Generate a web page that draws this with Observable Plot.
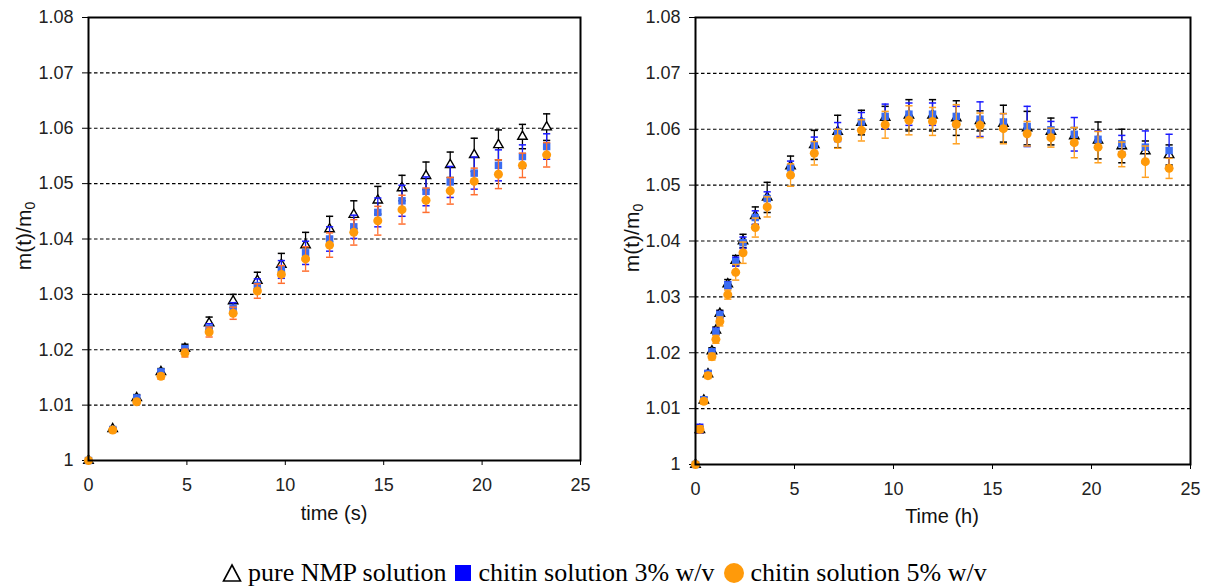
<!DOCTYPE html>
<html>
<head>
<meta charset="utf-8">
<script src="https://cdn.jsdelivr.net/npm/d3@7"></script>
<script src="https://cdn.jsdelivr.net/npm/@observablehq/plot@0.6"></script>
<style>
  html, body { margin: 0; padding: 0; background: #fff; }
  #root { position: relative; width: 1208px; height: 588px; font-family: "Liberation Sans", Arial, sans-serif; color: #111; }
  .panel { position: absolute; top: 0; }
  .ylab { position: absolute; font-size: 21px; transform: translate(-50%, -50%) rotate(-90deg); white-space: nowrap; }
  .ylab sub { font-size: 14px; vertical-align: -4px; }
  .xlab { position: absolute; font-size: 20px; transform: translate(-50%, -50%); white-space: nowrap; }
  #legend { position: absolute; left: 220px; top: 558px; font-family: "Liberation Serif", "Times New Roman", serif; font-size: 26px; display: flex; align-items: center; white-space: nowrap; color: #000; }
  #legend svg { margin: 0 6px 0 2px; }
</style>
</head>
<body>
<div id="root">
  <div class="panel" id="left"></div>
  <div class="panel" id="right" style="left:600px"></div>
  <div class="ylab" style="left:25px; top:236px">m(t)/m<sub>0</sub></div>
  <div class="ylab" style="left:633px; top:238px">m(t)/m<sub>0</sub></div>
  <div class="xlab" style="left:334px; top:513px">time (s)</div>
  <div class="xlab" style="left:942px; top:516px">Time (h)</div>
  <div id="legend"></div>
</div>
<script>
// ---------- data ----------
const seriesNames = ["pure NMP solution", "chitin solution 3% w/v", "chitin solution 5% w/v"];

const xTicks = [0, 5, 10, 15, 20, 25];
const yTicks = [1, 1.01, 1.02, 1.03, 1.04, 1.05, 1.06, 1.07, 1.08];
const yTickLabels = ["1", "1.01", "1.02", "1.03", "1.04", "1.05", "1.06", "1.07", "1.08"];
const gridTicks = [1.01, 1.02, 1.03, 1.04, 1.05, 1.06, 1.07];

// left panel: time (s)
const timeS = [0, 1.23, 2.45, 3.68, 4.9, 6.13, 7.35, 8.58, 9.8, 11.03, 12.25, 13.48, 14.7, 15.93, 17.15, 18.38, 19.6, 20.83, 22.05, 23.28];
const nmpS   = [1.000, 1.0057, 1.0113, 1.0160, 1.0202, 1.0248, 1.0288, 1.0325, 1.0354, 1.0389, 1.0418, 1.0444, 1.0470, 1.0492, 1.0514, 1.0534, 1.0552, 1.0570, 1.0585, 1.0602];
const nmpSErr = [0, 0.0003, 0.0006, 0.0006, 0.0008, 0.0011, 0.0012, 0.0015, 0.0020, 0.0023, 0.0023, 0.0025, 0.0025, 0.0023, 0.0025, 0.0023, 0.0030, 0.0027, 0.0022, 0.0024];
const c3S    = [1.000, 1.0056, 1.0113, 1.0160, 1.0202, 1.0239, 1.0275, 1.0316, 1.0345, 1.0375, 1.0400, 1.0422, 1.0448, 1.0469, 1.0486, 1.0503, 1.0519, 1.0533, 1.0549, 1.0567];
const c3SErr = [0, 0.0003, 0.0004, 0.0004, 0.0005, 0.0008, 0.0010, 0.0012, 0.0016, 0.0021, 0.0022, 0.0021, 0.0026, 0.0028, 0.0026, 0.0028, 0.0029, 0.0028, 0.0021, 0.0023];
const c5S    = [1.000, 1.0055, 1.0106, 1.0152, 1.0194, 1.0232, 1.0266, 1.0306, 1.0336, 1.0364, 1.0389, 1.0412, 1.0433, 1.0453, 1.0470, 1.0487, 1.0504, 1.0517, 1.0533, 1.0552];
const c5SErr = [0, 0.0003, 0.0004, 0.0005, 0.0007, 0.0009, 0.0011, 0.0013, 0.0016, 0.0022, 0.0022, 0.0023, 0.0026, 0.0026, 0.0022, 0.0024, 0.0024, 0.0026, 0.0022, 0.0022];

// right panel: time (h)
const timeH = [0, 0.22, 0.42, 0.63, 0.83, 1.03, 1.23, 1.63, 2.03, 2.4, 3.02, 3.62, 4.8, 6.0, 7.18, 8.38, 9.58, 10.78, 11.97, 13.17, 14.37, 15.55, 16.75, 17.95, 19.13, 20.33, 21.53, 22.72, 23.92];
const nmpH   = [1.000, 1.0062, 1.0115, 1.0162, 1.0203, 1.0240, 1.0270, 1.0323, 1.0365, 1.0400, 1.0445, 1.0478, 1.0534, 1.0572, 1.0596, 1.0612, 1.0621, 1.0625, 1.0625, 1.0620, 1.0615, 1.0610, 1.0602, 1.0596, 1.0588, 1.0580, 1.0570, 1.0561, 1.0554];
const nmpHErr = [0, 0.0006, 0.0005, 0.0005, 0.0006, 0.0006, 0.0006, 0.0008, 0.0009, 0.0012, 0.0016, 0.0027, 0.0018, 0.0026, 0.0029, 0.0022, 0.0020, 0.0028, 0.0028, 0.0031, 0.0018, 0.0033, 0.0030, 0.0024, 0.0015, 0.0033, 0.0030, 0.0018, 0.0018];
const c3H    = [1.000, 1.0064, 1.0116, 1.0163, 1.0202, 1.0238, 1.0268, 1.0321, 1.0363, 1.0397, 1.0442, 1.0476, 1.0531, 1.0571, 1.0595, 1.0613, 1.0623, 1.0627, 1.0627, 1.0623, 1.0618, 1.0613, 1.0605, 1.0599, 1.0591, 1.0582, 1.0574, 1.0568, 1.0562];
const c3HErr = [0, 0.0008, 0.0005, 0.0005, 0.0005, 0.0006, 0.0006, 0.0006, 0.0008, 0.0010, 0.0012, 0.0012, 0.0012, 0.0015, 0.0017, 0.0017, 0.0022, 0.0020, 0.0020, 0.0018, 0.0031, 0.0015, 0.0036, 0.0015, 0.0030, 0.0015, 0.0015, 0.0029, 0.0029];
const c5H    = [1.000, 1.0063, 1.0113, 1.0159, 1.0193, 1.0224, 1.0256, 1.0304, 1.0344, 1.0379, 1.0424, 1.0461, 1.0518, 1.0557, 1.0583, 1.0598, 1.0608, 1.0616, 1.0614, 1.0609, 1.0607, 1.0601, 1.0592, 1.0585, 1.0576, 1.0568, 1.0555, 1.0542, 1.0530];
const c5HErr = [0, 0.0006, 0.0005, 0.0005, 0.0006, 0.0007, 0.0008, 0.0008, 0.0014, 0.0019, 0.0017, 0.0018, 0.0020, 0.0021, 0.0017, 0.0019, 0.0024, 0.0026, 0.0025, 0.0035, 0.0022, 0.0027, 0.0022, 0.0017, 0.0027, 0.0028, 0.0022, 0.0028, 0.0018];

// ---------- styles ----------
const triColor = "#000000";
const blueFill = "#3a6cf2";
const blueErr = "#1a1aff";
const orangeFill = "#ff9a0a";

const cap = { draw(ctx, size) { const w = Math.sqrt(size / Math.PI); ctx.moveTo(-w, 0); ctx.lineTo(w, 0); } };

function rows(xs, ys, es) { return xs.map((x, i) => ({ x, y: ys[i], e: es[i] })); }

function errMarks(data, color) {
  return [
    Plot.ruleX(data, { x: "x", y1: d => d.y - d.e, y2: d => d.y + d.e, stroke: color, strokeWidth: 1.3 }),
    Plot.dot(data, { x: "x", y: d => d.y + d.e, symbol: cap, r: 3.6, stroke: color, strokeWidth: 1.5, fill: "none" }),
    Plot.dot(data, { x: "x", y: d => d.y - d.e, symbol: cap, r: 3.6, stroke: color, strokeWidth: 1.5, fill: "none" })
  ];
}

function panel(opts) {
  const tri = rows(opts.x, opts.nmp, opts.nmpErr);
  const c3 = rows(opts.x, opts.c3, opts.c3Err);
  const c5 = rows(opts.x, opts.c5, opts.c5Err);
  return Plot.plot({
    width: opts.width,
    height: 540,
    marginLeft: opts.ml,
    marginRight: opts.mr,
    marginTop: 17,
    marginBottom: opts.mb,
    style: { fontFamily: "'Liberation Sans', Arial, sans-serif", fontSize: "18px", color: "#222", background: "white", overflow: "visible" },
    x: { domain: [0, 25] },
    y: { domain: [1, 1.08] },
    marks: [
      Plot.gridY(gridTicks, { stroke: "#000", strokeOpacity: 1, strokeWidth: 1.2, strokeDasharray: "3.5,2.5" }),
      Plot.axisX({ ticks: xTicks, tickSize: 5, tickPadding: 13, tickFormat: d => String(d), label: null, stroke: "#000" }),
      Plot.axisY({ ticks: yTicks, tickSize: 6, tickPadding: 9, tickFormat: d => yTickLabels[yTicks.indexOf(d)], label: null, stroke: "#000" }),
      ...errMarks(tri, triColor),
      Plot.dot(tri, { x: "x", y: "y", symbol: "triangle", r: 3.5, fill: "white", stroke: "#000", strokeWidth: 1.4 }),
      ...errMarks(c3, blueErr),
      Plot.dot(c3, { x: "x", y: "y", symbol: "square", r: 4.2, fill: blueFill, stroke: "none" }),
      ...errMarks(c5, opts.orangeErr),
      Plot.dot(c5, { x: "x", y: "y", symbol: "circle", r: 4.5, fill: orangeFill, stroke: "none" }),
      Plot.frame({ stroke: "#000", strokeWidth: 2 })
    ]
  });
}

document.getElementById("left").appendChild(panel({
  width: 600, ml: 88, mr: 20, mb: 80,
  x: timeS, nmp: nmpS, nmpErr: nmpSErr, c3: c3S, c3Err: c3SErr, c5: c5S, c5Err: c5SErr,
  orangeErr: "#ff6f30"
}));
document.getElementById("right").appendChild(panel({
  width: 608, ml: 95, mr: 18, mb: 76,
  x: timeH, nmp: nmpH, nmpErr: nmpHErr, c3: c3H, c3Err: c3HErr, c5: c5H, c5Err: c5HErr,
  orangeErr: "#ffa020"
}));

// ---------- legend ----------
const legend = document.getElementById("legend");
const swatches = [
  '<svg width="20" height="20" viewBox="0 0 20 20"><path d="M10 2 L18.5 18 L1.5 18 Z" fill="white" stroke="black" stroke-width="1.6"/></svg>',
  '<svg width="18" height="18" viewBox="0 0 18 18"><rect x="1" y="1" width="16" height="16" fill="#0000ff"/></svg>',
  '<svg width="22" height="22" viewBox="0 0 22 22"><circle cx="11" cy="11" r="10" fill="#ff9a0a"/></svg>'
];
seriesNames.forEach((name, i) => {
  const wrap = document.createElement("span");
  wrap.style.display = "inline-flex";
  wrap.style.alignItems = "center";
  wrap.style.marginRight = "6px";
  wrap.innerHTML = swatches[i] + "<span>" + name + "</span>";
  legend.appendChild(wrap);
});
</script>
</body>
</html>
